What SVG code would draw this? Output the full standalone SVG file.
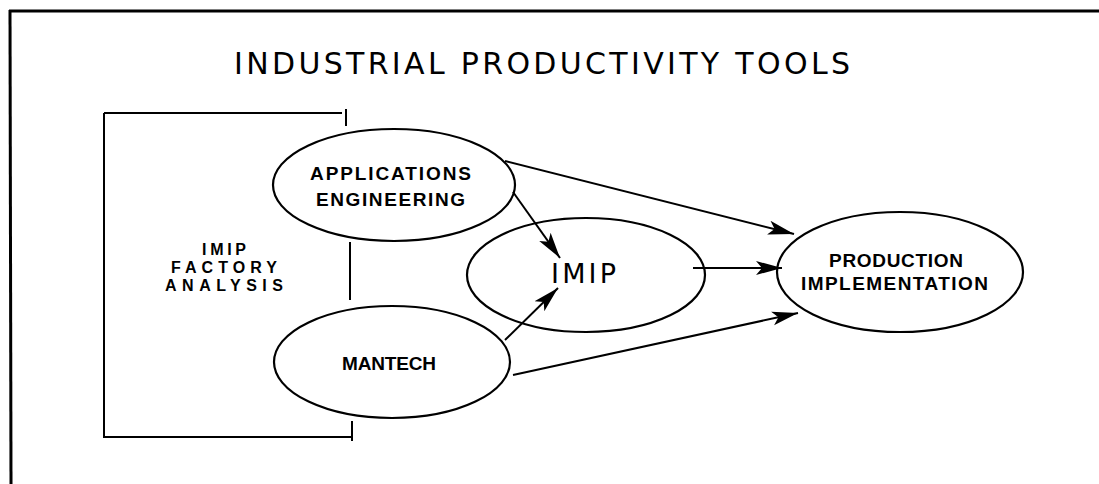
<svg xmlns="http://www.w3.org/2000/svg" width="1099" height="484" viewBox="0 0 1099 484">
<style>
.ln{stroke:#000;stroke-width:2;fill:none}
.nd{stroke:#000;stroke-width:2.2;fill:none}
.lb{font-family:"Liberation Sans","DejaVu Sans",sans-serif;font-weight:bold;font-size:19px;fill:#000}
.fa{font-family:"Liberation Sans","DejaVu Sans",sans-serif;font-weight:bold;font-size:16px;fill:#000}
.tt{font-family:"DejaVu Sans","Liberation Sans",sans-serif;font-size:30px;fill:#000}
</style>
<defs>
<marker id="ah" markerUnits="userSpaceOnUse" markerWidth="28" markerHeight="16" refX="26" refY="8" orient="auto">
<path d="M0,1 L26,8 L0,15 L6,8 Z" fill="#000"/>
</marker>
</defs>
<rect width="1099" height="484" fill="#fff"/>
<g id="frame">
<line x1="9" y1="11" x2="1099" y2="11" stroke="#000" stroke-width="3"/>
<line x1="10" y1="10" x2="11" y2="484" stroke="#000" stroke-width="3"/>
</g>
<text id="title" class="tt" x="234" y="74" textLength="616" lengthAdjust="spacing">INDUSTRIAL PRODUCTIVITY TOOLS</text>
<g id="factory-analysis">
<path class="ln" d="M104,113 L342,113 M346,109 L346,126 M104,113 L104,437 L352,437 M350,242 L350,300 M352,421 L352,441"/>
<text class="fa" text-anchor="middle" x="224" y="255" textLength="44" lengthAdjust="spacing">IMIP</text>
<text class="fa" text-anchor="middle" x="224" y="273" textLength="106" lengthAdjust="spacing">FACTORY</text>
<text class="fa" text-anchor="middle" x="224" y="291" textLength="118" lengthAdjust="spacing">ANALYSIS</text>
</g>
<g id="applications-engineering">
<ellipse class="nd" cx="394" cy="185" rx="121" ry="56"/>
<text class="lb" x="310" y="180" textLength="161" lengthAdjust="spacing">APPLICATIONS</text>
<text class="lb" x="316" y="206" textLength="149" lengthAdjust="spacing">ENGINEERING</text>
</g>
<g id="mantech">
<ellipse class="nd" cx="392" cy="362" rx="118" ry="56"/>
<text class="lb" x="342" y="370" textLength="94" lengthAdjust="spacing">MANTECH</text>
</g>
<g id="imip">
<ellipse class="nd" cx="586" cy="275" rx="119" ry="57"/>
<text x="551" y="283" font-family="DejaVu Sans, sans-serif" font-size="27" textLength="65" lengthAdjust="spacing">IMIP</text>
</g>
<g id="production-implementation">
<ellipse class="nd" cx="900" cy="272" rx="123" ry="60"/>
<text class="lb" x="829" y="267" textLength="134" lengthAdjust="spacing">PRODUCTION</text>
<text class="lb" x="801" y="290" textLength="187" lengthAdjust="spacing">IMPLEMENTATION</text>
</g>
<g id="connectors">
<line class="ln" x1="505" y1="161" x2="794" y2="234" marker-end="url(#ah)"/>
<line class="ln" x1="513" y1="192" x2="560" y2="258" marker-end="url(#ah)"/>
<line class="ln" x1="693" y1="268" x2="782" y2="268" marker-end="url(#ah)"/>
<line class="ln" x1="505" y1="340" x2="558" y2="288" marker-end="url(#ah)"/>
<line class="ln" x1="513" y1="375" x2="798" y2="313" marker-end="url(#ah)"/>
</g>
</svg>
